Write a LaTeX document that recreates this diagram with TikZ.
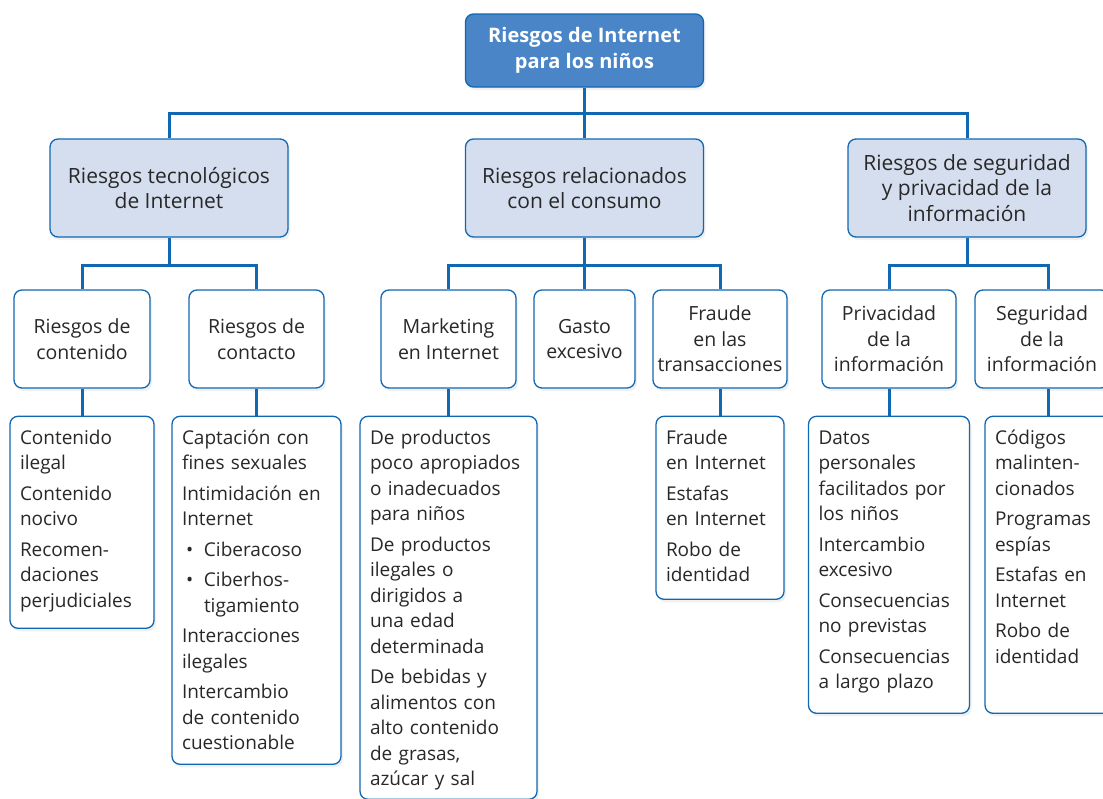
\documentclass[tikz,border=0pt]{standalone}
\usepackage{fontspec}
\setmainfont{Open Sans}
\usepackage{tikz}
\usetikzlibrary{positioning,shadows}
\definecolor{lineblue}{RGB}{16,104,178}
\definecolor{topblue}{RGB}{74,134,199}
\definecolor{catblue}{RGB}{213,222,239}
\definecolor{txtgrey}{RGB}{40,40,40}

\begin{document}
\begin{tikzpicture}[x=1pt,y=-1pt]
 	\tikzstyle{base}=[rectangle, rounded corners=8pt, draw=lineblue, line width=1.3pt, text=txtgrey, align=center, font=\fontsize{19.5}{25.5}\selectfont, drop shadow={shadow xshift=2pt, shadow yshift=-3pt, opacity=0.12}]
 	\tikzstyle{head}=[base, fill=topblue, text=white, font=\fontsize{20}{25.5}\selectfont\bfseries, minimum width=238pt, minimum height=73pt]
 	\tikzstyle{cat}=[base, fill=catblue, font=\fontsize{21}{25.5}\selectfont, minimum width=238pt, minimum height=98pt]
 	\tikzstyle{sub}=[base, fill=white, minimum height=98pt]
 	\tikzstyle{leaf}=[base, fill=white, align=left, font=\fontsize{19}{25.5}\selectfont, text height=18pt, inner xsep=10pt, inner ysep=10pt, node distance=27pt]
 	\tikzstyle{connect}=[line width=3pt, lineblue]
 	\useasboundingbox (0,0) rectangle (1103,798);
 	\node[head] (top) at (584.5,50.5) {Riesgos de Internet\\para los niños};
 	\node[cat] (tech) at (169,188) {Riesgos tecnológicos\\de Internet};
 	\node[cat] (cons) at (584.5,188) {Riesgos relacionados\\con el consumo};
 	\node[cat] (secu) at (967,188) {Riesgos de seguridad\\y privacidad de la\\información};
 	\node[sub, minimum width=136pt] (cont) at (82,339) {Riesgos de\\contenido};
 	\node[sub, minimum width=135pt] (contact) at (256.5,339) {Riesgos de\\contacto};
 	\node[sub, minimum width=135pt] (mkt) at (448.5,339) {Marketing\\en Internet};
 	\node[sub, minimum width=101pt] (gasto) at (584.5,339) {Gasto\\excesivo};
 	\node[sub, minimum width=134pt] (fraude) at (720,339) {Fraude\\en las\\transacciones};
 	\node[sub, minimum width=134pt] (priv) at (889,339) {Privacidad\\de la\\información};
 	\node[sub, minimum width=134pt] (segu) at (1042,339) {Seguridad\\de la\\información};
 	\node[leaf, text width=124pt, text depth=174pt] (contL) [below=of cont] {Contenido\\ilegal\\[5pt]Contenido\\nocivo\\[5pt]Recomen-\\daciones\\perjudiciales};
 	\node[leaf, text width=149pt, text depth=310pt] (contactL) [below=of contact] {Captación con\\fines sexuales\\[5pt]Intimidación en\\Internet\\[5pt]\hspace*{4pt}\makebox[18pt][l]{\textbullet}Ciberacoso\\[5pt]\hspace*{4pt}\makebox[18pt][l]{\textbullet}Ciberhos-\\\hspace*{22pt}tigamiento\\[5pt]Interacciones\\ilegales\\[5pt]Intercambio\\de contenido\\cuestionable};
 	\node[leaf, text width=157pt, text depth=345pt] (mktL) [below=of mkt] {De productos\\poco apropiados\\o inadecuados\\para niños\\[5pt]De productos\\ilegales o\\dirigidos a\\una edad\\determinada\\[5pt]De bebidas y\\alimentos con\\alto contenido\\de grasas,\\azúcar y sal};
 	\node[leaf, text width=108pt, text depth=145pt] (fraudeL) [below=of fraude] {Fraude\\en Internet\\[5pt]Estafas\\en Internet\\[5pt]Robo de\\identidad};
 	\node[leaf, text width=141pt, text depth=259pt] (privL) [below=of priv] {Datos\\personales\\facilitados por\\los niños\\[5pt]Intercambio\\excesivo\\[5pt]Consecuencias\\no previstas\\[5pt]Consecuencias\\a largo plazo};
 	\node[leaf, text width=106pt, text depth=259pt] (seguL) [below=of segu, xshift=6pt] {Códigos\\malinten-\\cionados\\[5pt]Programas\\espías\\[5pt]Estafas en\\Internet\\[5pt]Robo de\\identidad};
 	% tree lines
 	\coordinate (bus0) at (584.5,113);
 	\coordinate (bus1) at (169,265);
 	\coordinate (bus2) at (584.5,265);
 	\coordinate (bus3) at (967,265);
 	\draw[connect] (top) -- (bus0) -| (tech);
 	\draw[connect] (bus0) -| (secu);
 	\draw[connect] (bus0) -- (cons);
 	\draw[connect] (tech) -- (bus1) -| (cont);
 	\draw[connect] (bus1) -| (contact);
 	\draw[connect] (cons) -- (bus2) -| (mkt);
 	\draw[connect] (bus2) -| (fraude);
 	\draw[connect] (bus2) -- (gasto);
 	\draw[connect] (secu) -- (bus3) -| (priv);
 	\draw[connect] (bus3) -| (seguL.north |- segu.north);
 	\path (cont) edge [connect] (contL)
 	(contact) edge [connect] (contactL)
 	(mkt) edge [connect] (mktL)
 	(fraude) edge [connect] (fraudeL)
 	(priv) edge [connect] (privL);
 	\draw[connect] (seguL.north) -- (seguL.north |- segu.south);
\end{tikzpicture}
\end{document}
